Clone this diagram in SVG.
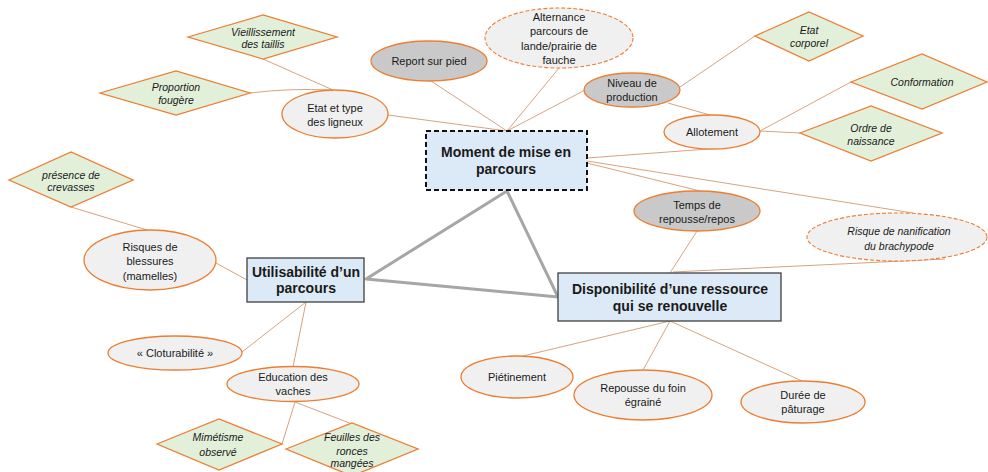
<svg xmlns="http://www.w3.org/2000/svg" width="988" height="472" viewBox="0 0 988 472">
<style>
text{font-family:"Liberation Sans",Arial,sans-serif;fill:#1a1a1a;text-anchor:middle}
.t{font-size:11px}
.d{font-size:10.5px;font-style:italic}
.b{font-size:14px;font-weight:bold}
.el{fill:#f0f0f0;stroke:#ed7d31;stroke-width:1.3}
.eg{fill:#c9c9c9;stroke:#ed7d31;stroke-width:1.3}
.ed{fill:#f0f0f0;stroke:#ed7d31;stroke-width:1.1;stroke-dasharray:4 2}
.dm{fill:#e2efd9;stroke:#ed7d31;stroke-width:1.3}
.bx{fill:#dce9f6;stroke:#404040;stroke-width:1.3}
.bd{fill:#dce9f6;stroke:#111;stroke-width:2;stroke-dasharray:5 3}
.c{stroke:#d9a27e;stroke-width:1;fill:none}
.g{stroke:#a6a6a6;stroke-width:3;fill:none;stroke-linejoin:round}
</style>
<rect width="988" height="472" fill="#fff"/>
<g id="connectors">
<line class="c" x1="263" y1="59" x2="333" y2="90"/>
<path class="c" d="M250,93 Q290,88 333,90"/>
<line class="c" x1="388" y1="115" x2="507" y2="131"/>
<line class="c" x1="431" y1="81" x2="507" y2="131"/>
<line class="c" x1="559" y1="68" x2="507" y2="131"/>
<line class="c" x1="587" y1="89" x2="507" y2="131"/>
<line class="c" x1="680" y1="87" x2="755" y2="36"/>
<line class="c" x1="668" y1="103" x2="710" y2="115"/>
<line class="c" x1="587" y1="158" x2="708" y2="149"/>
<line class="c" x1="587" y1="163" x2="700" y2="191"/>
<line class="c" x1="587" y1="161" x2="913" y2="213"/>
<line class="c" x1="760" y1="131" x2="851" y2="82"/>
<line class="c" x1="760" y1="131" x2="800" y2="133"/>
<line class="c" x1="697" y1="231" x2="670" y2="273"/>
<line class="c" x1="945" y1="259" x2="673" y2="272"/>
<line class="c" x1="71" y1="207" x2="147" y2="230"/>
<line class="c" x1="216" y1="263" x2="247" y2="280"/>
<line class="c" x1="306" y1="302" x2="242" y2="352"/>
<line class="c" x1="306" y1="302" x2="293" y2="367"/>
<line class="c" x1="295" y1="402" x2="282" y2="444"/>
<line class="c" x1="295" y1="402" x2="352" y2="424"/>
<line class="c" x1="670" y1="321" x2="523" y2="356"/>
<line class="c" x1="670" y1="321" x2="643" y2="370"/>
<line class="c" x1="670" y1="321" x2="802" y2="381"/>
<polygon class="g" points="507,191 366,279 558,297"/>
</g>
<g id="vieillissement"><polygon class="dm" points="188,37 263,15 337,37 263,59"/><text class="d" x="263" y="36">Vieillissement</text><text class="d" x="263" y="48">des taillis</text></g>
<g id="proportion"><polygon class="dm" points="100,93 176,71 250,93 176,115"/><text class="d" x="176" y="91">Proportion</text><text class="d" x="176" y="104">fougère</text></g>
<g id="etat-ligneux"><ellipse class="el" cx="335" cy="114" rx="53" ry="24"/><text class="t" x="335" y="112">Etat et type</text><text class="t" x="335" y="126">des ligneux</text></g>
<g id="report"><ellipse class="eg" cx="429" cy="61" rx="58" ry="20"/><text class="t" x="429" y="65">Report sur pied</text></g>
<g id="alternance"><ellipse class="ed" cx="559" cy="38" rx="74" ry="30"/><text class="t" x="559" y="21">Alternance</text><text class="t" x="559" y="35">parcours de</text><text class="t" x="559" y="50">lande/prairie de</text><text class="t" x="559" y="64">fauche</text></g>
<g id="niveau"><ellipse class="eg" cx="632" cy="90" rx="48" ry="17"/><text class="t" x="632" y="87">Niveau de</text><text class="t" x="632" y="101">production</text></g>
<g id="moment"><rect class="bd" x="426" y="131" width="161" height="59"/><text class="b" x="506" y="157">Moment de mise en</text><text class="b" x="506" y="174">parcours</text></g>
<g id="etat-corporel"><polygon class="dm" points="755,36 809,12 863,36 809,61"/><text class="d" x="809" y="34">Etat</text><text class="d" x="809" y="47">corporel</text></g>
<g id="conformation"><polygon class="dm" points="851,82 922,54 987,82 922,109"/><text class="d" x="922" y="86">Conformation</text></g>
<g id="allotement"><ellipse class="el" cx="712" cy="132" rx="48" ry="17"/><text class="t" x="712" y="136">Allotement</text></g>
<g id="ordre"><polygon class="dm" points="800,133 871,106 942,133 871,161"/><text class="d" x="871" y="132">Ordre de</text><text class="d" x="871" y="145">naissance</text></g>
<g id="temps"><ellipse class="eg" cx="697" cy="211" rx="63" ry="20"/><text class="t" x="697" y="209">Temps de</text><text class="t" x="697" y="223">repousse/repos</text></g>
<g id="risque"><ellipse class="ed" cx="897" cy="237" rx="90" ry="24"/><text class="d" x="899" y="235">Risque de nanification</text><text class="d" x="899" y="250">du brachypode</text></g>
<g id="presence"><polygon class="dm" points="9,180 71,152 133,180 71,207"/><text class="d" x="71" y="179">présence de</text><text class="d" x="71" y="191">crevasses</text></g>
<g id="risques-blessures"><ellipse class="el" cx="150" cy="260" rx="66" ry="30"/><text class="t" x="150" y="251">Risques de</text><text class="t" x="150" y="265">blessures</text><text class="t" x="150" y="280">(mamelles)</text></g>
<g id="utilisabilite"><rect class="bx" x="247" y="258" width="117" height="44"/><text class="b" x="306" y="277">Utilisabilité d’un</text><text class="b" x="306" y="293">parcours</text></g>
<g id="cloturabilite"><ellipse class="el" cx="175" cy="353" rx="67" ry="17"/><text class="t" x="175" y="357">« Cloturabilité »</text></g>
<g id="education"><ellipse class="el" cx="293" cy="384" rx="66" ry="17.5"/><text class="t" x="293" y="381">Education des</text><text class="t" x="293" y="395">vaches</text></g>
<g id="mimetisme"><polygon class="dm" points="157,444 219,419 282,444 219,470"/><text class="d" x="218" y="441">Mimétisme</text><text class="d" x="218" y="456">observé</text></g>
<g id="feuilles"><polygon class="dm" points="286,449 352,423 418,449 352,476"/><text class="d" x="352" y="441">Feuilles des</text><text class="d" x="352" y="455">ronces</text><text class="d" x="352" y="467">mangées</text></g>
<g id="disponibilite"><rect class="bx" x="558" y="273" width="223" height="48"/><text class="b" x="670" y="294">Disponibilité d’une ressource</text><text class="b" x="670" y="311">qui se renouvelle</text></g>
<g id="pietinement"><ellipse class="el" cx="517" cy="377" rx="56" ry="21"/><text class="t" x="517" y="381">Piétinement</text></g>
<g id="repousse"><ellipse class="el" cx="643" cy="395" rx="69" ry="25"/><text class="t" x="643" y="392">Repousse du foin</text><text class="t" x="643" y="406">égrainé</text></g>
<g id="duree"><ellipse class="el" cx="803" cy="402" rx="62" ry="21"/><text class="t" x="803" y="399">Durée de</text><text class="t" x="803" y="413">pâturage</text></g>
</svg>
